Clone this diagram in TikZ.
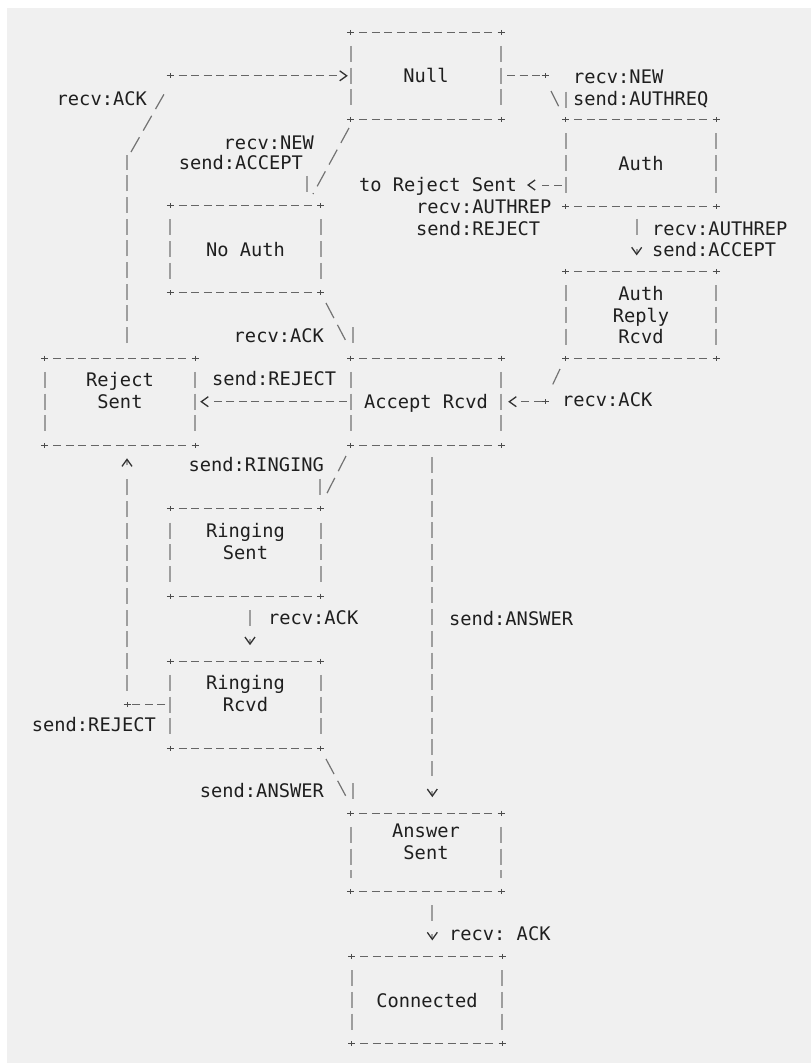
\documentclass[tikz,border=0pt]{standalone}
\usepackage{fontspec}
\setmonofont{DejaVu Sans Mono}
\usetikzlibrary{arrows.meta, calc}
\definecolor{bg}{RGB}{240,240,240}

\begin{document}
\begin{tikzpicture}[x=1pt, y=-1pt,
  every node/.style={inner sep=0pt, text=black!88,
    font=\ttfamily\fontsize{18.7}{21.7}\selectfont},
  lbl/.style={text height=13.7pt, text depth=0pt},
  state/.style={minimum width=150pt, minimum height=86.7pt, align=center,
    text height=14pt, text depth=0pt},
  two/.style={text height=35.7pt, text depth=22pt},
  three/.style={text height=57.4pt, text depth=0pt},
  hdash/.style={draw=black!60, line width=1pt, dash pattern=on 8pt off 4.5pt},
  vdash/.style={draw=black!38, line width=2pt, dash pattern=on 16pt off 5.7pt},
  sdash/.style={draw=black!55, line width=1.2pt, dash pattern=on 17pt off 7.7pt},
  tip/.style={-{Straight Barb[length=7pt, width=10pt, line width=1.3pt, color=black!80]}},
  crs/.pic={\draw[black!70, line width=1pt] (-3.5,0) -- (3.5,0) (0,-2.5) -- (0,2.5);}]

  \useasboundingbox (0,0) rectangle (811,1063);
  \fill[white] (0,0) rectangle (811,1063);
  \fill[bg] (7,8) rectangle (811,1063);

  % 状态框
  \node[state] (null)   at (426,75.8)    {Null};
  \node[state] (auth)   at (641,163.2)   {Auth};
  \node[state] (noauth) at (245.5,249.3) {No Auth};
  \node[state, three] (reply)  at (641,315)     {Auth\\Reply\\Rcvd};
  \node[state, two] (reject) at (120,401.7)   {Reject\\Sent};
  \node[state] (accept) at (426,401.7)   {Accept Rcvd};
  \node[state, two] (rsent)  at (245.5,552.5) {Ringing\\Sent};
  \node[state, two] (rrcvd)  at (245.5,704.7) {Ringing\\Rcvd};
  \node[state, two, minimum height=77.7pt] (answer) at (426,852.2) {Answer\\Sent};
  \node[state] (conn)   at (427,1000)    {Connected};

  % 框线（ASCII 风格）
  \foreach \b in {null,auth,noauth,reply,reject,accept,rsent,rrcvd,answer,conn} {
    \draw[hdash] ([xshift=8.5pt]\b.north west) -- ([xshift=-8.5pt]\b.north east)
                 ([xshift=8.5pt]\b.south west) -- ([xshift=-8.5pt]\b.south east);
    \draw[vdash] ([yshift=-13.7pt]\b.north west) -- ([yshift=13.7pt]\b.south west)
                 ([yshift=-13.7pt]\b.north east) -- ([yshift=13.7pt]\b.south east);
    \foreach \c in {north west,north east,south west,south east}
      \pic at (\b.\c) {crs};
  }

  % 拐点
  \coordinate (k1) at (170,75.8);
  \coordinate (k2) at (545,75.8);
  \coordinate (k3) at (545.7,401.7);
  \coordinate (k4) at (127,704.7);
  \coordinate (d1) at (auth.west |- 0,185);

  % Reject Sent -> Null
  \draw[vdash] ([xshift=7pt,yshift=15pt]reject.north) -- (127,155);
  \draw[sdash] (131,152) -- (167,89);
  \pic at (k1) {crs};
  \draw[hdash, tip] ([xshift=8.5pt]k1) -- ([xshift=-14pt]null.west)
                    ([xshift=-4pt]null.west) -- ([xshift=-3pt]null.west);

  % Null -> Auth
  \draw[hdash] ([xshift=6pt]null.east) -- ([xshift=-4pt]k2);
  \pic at (k2) {crs};
  \draw[sdash] (551,91) -- (559,107);
  \draw[vdash] ([yshift=28pt]auth.north west) -- ([yshift=12pt]auth.north west);

  % Null -> No Auth
  \draw[sdash] (349,128) -- (313,194);
  \draw[vdash] ([xshift=-13.5pt,yshift=30pt]noauth.north east)
            -- ([xshift=-13.5pt,yshift=14pt]noauth.north east);

  % Auth -> Reject Sent
  \node[lbl, anchor=west] (torej) at (359,185) {to Reject Sent};
  \draw[hdash, tip] ([xshift=-4pt]d1) -- ([xshift=25pt]torej.east)
                    ([xshift=11pt]torej.east) -- ([xshift=10pt]torej.east);

  % Auth -> Auth Reply Rcvd
  \draw[vdash, tip] ([xshift=-4.3pt,yshift=-12pt]auth.south) -- ++(0,16)
                    ([xshift=-4.3pt,yshift=22pt]reply.north) -- ([xshift=-4.3pt,yshift=16pt]reply.north);

  % Auth Reply Rcvd -> Accept Rcvd
  \draw[sdash] (560,369) -- (552,386);
  \pic at (k3) {crs};
  \draw[hdash, tip] ([xshift=-4pt]k3) -- ([xshift=19pt]accept.east)
                    ([xshift=8pt]accept.east) -- ([xshift=7pt]accept.east);

  % No Auth -> Accept Rcvd
  \draw[sdash] (326,303) -- (348,345);
  \draw[vdash] ([xshift=2pt,yshift=31pt]accept.north west) -- ([xshift=2pt,yshift=15pt]accept.north west);

  % Accept Rcvd -> Reject Sent
  \draw[hdash, tip] ([xshift=-4pt]accept.west) -- ([xshift=17pt]reject.east)
                    ([xshift=6pt]reject.east) -- ([xshift=5pt]reject.east);

  % Accept Rcvd -> Ringing Sent
  \draw[sdash] (346,456) -- (324,499);
  \draw[vdash] ([xshift=-0.5pt,yshift=30pt]rsent.north east) -- ([xshift=-0.5pt,yshift=14pt]rsent.north east);

  % Ringing Sent -> Ringing Rcvd
  \draw[vdash, tip] ([xshift=4.5pt,yshift=-14pt]rsent.south) -- ++(0,16)
                    ([xshift=4.5pt,yshift=22pt]rrcvd.north) -- ([xshift=4.5pt,yshift=16pt]rrcvd.north);

  % Ringing Rcvd -> Reject Sent
  \draw[hdash] ([xshift=-5pt]rrcvd.west) -- ([xshift=5pt]k4);
  \pic at (k4) {crs};
  \draw[vdash, tip] ([yshift=14pt]k4) -- (127,478)
                    ([xshift=7pt,yshift=-20pt]reject.south) -- ([xshift=7pt,yshift=-13pt]reject.south);

  % Ringing Rcvd -> Answer Sent
  \draw[sdash] (326,759) -- (349,802);
  \draw[vdash] ([xshift=2pt,yshift=30pt]answer.north west) -- ([xshift=2pt,yshift=14pt]answer.north west);

  % Accept Rcvd -> Answer Sent
  \draw[vdash, tip] ([xshift=6.3pt,yshift=-12pt]accept.south) -- ([xshift=6.3pt,yshift=37pt]answer.north)
                    ([xshift=6.3pt,yshift=22pt]answer.north) -- ([xshift=6.3pt,yshift=16pt]answer.north);

  % Answer Sent -> Connected
  \draw[vdash, tip] ([xshift=6.3pt,yshift=-14pt]answer.south) -- ++(0,16)
                    ([xshift=5.3pt,yshift=22pt]conn.north) -- ([xshift=5.3pt,yshift=16pt]conn.north);

  % 标签
  \node[lbl, anchor=east] (ack1) at (147,99)    {recv:ACK};
  \node[lbl, anchor=west] (new1) at (573,76.5)  {recv:NEW};
  \node[lbl, anchor=west] (areq) at (573,99)    {send:AUTHREQ};
  \node[lbl, anchor=east] (new2) at (314,142.7) {recv:NEW};
  \node[lbl, anchor=east] (acc1) at (303,163)   {send:ACCEPT};
  \node[lbl, anchor=west] (rep1) at (416,207)   {recv:AUTHREP};
  \node[lbl, anchor=west] (rej1) at (416,228.3) {send:REJECT};
  \node[lbl, anchor=west] (rep2) at (652,228.3) {recv:AUTHREP};
  \node[lbl, anchor=west] (acc2) at (652,250)   {send:ACCEPT};
  \node[lbl, anchor=east] (ack2) at (324,336)   {recv:ACK};
  \node[lbl, anchor=west] (rej2) at (212,378.3) {send:REJECT};
  \node[lbl, anchor=west] (ack3) at (562,400)   {recv:ACK};
  \node[lbl, anchor=east] (ring) at (324,465)   {send:RINGING};
  \node[lbl, anchor=west] (ack4) at (268,618)   {recv:ACK};
  \node[lbl, anchor=west] (ans1) at (449,618.3) {send:ANSWER};
  \node[lbl, anchor=east] (rej3) at (156,725)   {send:REJECT};
  \node[lbl, anchor=east] (ans2) at (324,790.7) {send:ANSWER};
  \node[lbl, anchor=west] (ack5) at (449,934)   {recv: ACK};
\end{tikzpicture}
\end{document}
